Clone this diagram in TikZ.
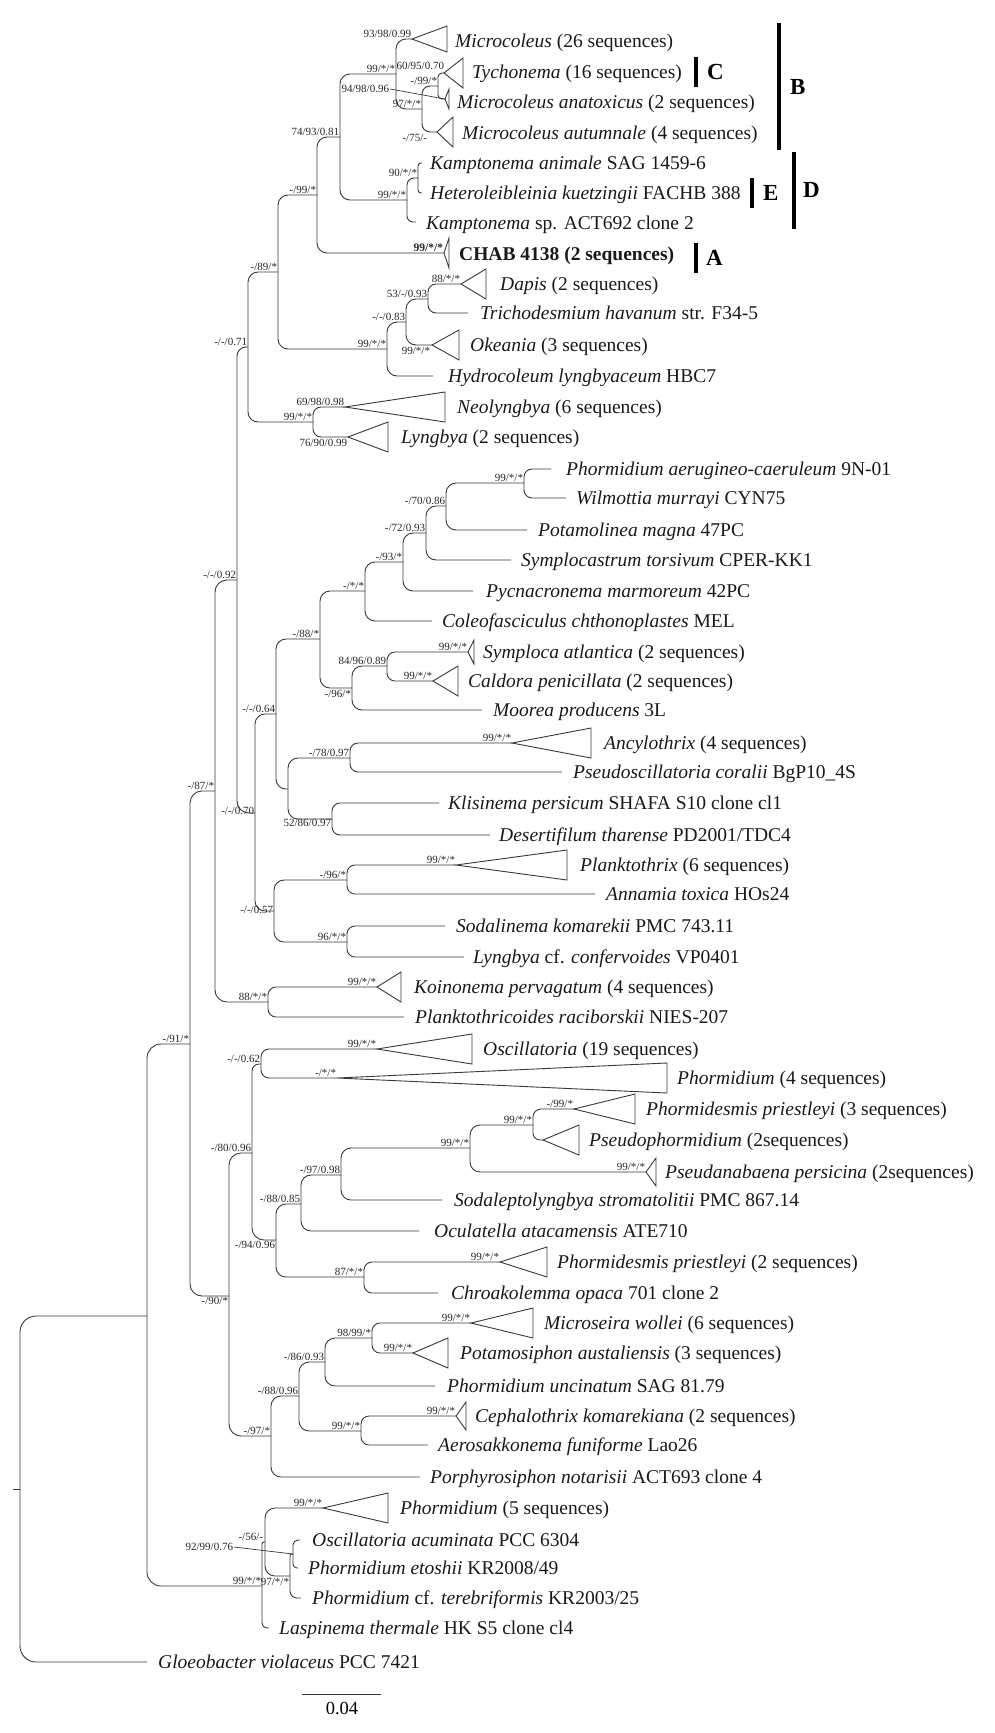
\documentclass[tikz,border=0pt]{standalone}
\usepackage{fontspec}
\setmainfont{Liberation Serif}
\begin{document}
\begin{tikzpicture}[x=1pt,y=-1pt,
  br/.style={draw=black!78, line width=0.9pt, rounded corners=10pt},
  tri/.style={draw=black!78, line width=0.9pt, line join=miter},
  tx/.style={anchor=base west, yshift=-6.5pt, inner sep=0pt, text=black!90, font=\fontsize{19.5}{22}\selectfont},
  sl/.style={inner sep=0.8pt, text=black!85, font=\fontsize{11}{12}\selectfont},
  barline/.style={line width=4pt, draw=black},
  bl/.style={anchor=west, inner sep=0pt, font=\fontsize{23}{26}\selectfont\bfseries}]
\newcommand\clade[3]{\draw[tri] (#1) -- ++(#2,-#3) -- ++(0,2*#3) -- cycle;}
\useasboundingbox (0,0) rectangle (994,1733);
% ---------- node coordinates ----------
\coordinate (R0) at (20,1489); \coordinate (stub) at (13,1489);
\coordinate (G) at (147,1662);
\coordinate (N4) at (147,1316); \coordinate (N3) at (190,1044);
\coordinate (N2) at (215,791);  \coordinate (N1) at (237,580);
\coordinate (Q) at (248,347);   \coordinate (U) at (278,272);
\coordinate (V) at (317,195);   \coordinate (W) at (340,137);
\coordinate (X) at (396,74);    \coordinate (aMic) at (412,39);
\coordinate (Y) at (422,109);   \coordinate (Z) at (438,86);
\coordinate (aTyc) at (444,73); \coordinate (aAna) at (445,99);
\coordinate (aAut) at (437,132);
\coordinate (K) at (407,200);   \coordinate (K2) at (418,178);
\coordinate (tKan) at (422,163); \coordinate (tHet) at (422,193);
\coordinate (tKsp) at (416,222); \coordinate (aCHAB) at (444,253);
\coordinate (T) at (387,349);   \coordinate (S) at (406,322);
\coordinate (Rr) at (428,299);  \coordinate (aDap) at (461,284);
\coordinate (tTri) at (468,313); \coordinate (aOke) at (432,345);
\coordinate (tHyd) at (433,376);
\coordinate (P) at (313,422);   \coordinate (aNeo) at (345,407);
\coordinate (aLyn) at (348,437);
\coordinate (N21) at (255,813); \coordinate (N22) at (276,714);
\coordinate (N28) at (320,639); \coordinate (N29) at (365,591);
\coordinate (N30) at (403,562); \coordinate (N31) at (426,533);
\coordinate (N32) at (446,506); \coordinate (N33) at (524,483);
\coordinate (tPAe) at (551,469); \coordinate (tWil) at (566,498);
\coordinate (tPot) at (527,530); \coordinate (tSym) at (511,560);
\coordinate (tPyc) at (473,591); \coordinate (tCol) at (432,621);
\coordinate (N34) at (352,688); \coordinate (N35) at (387,666);
\coordinate (aSyp) at (468,652); \coordinate (aCal) at (433,681);
\coordinate (tMoo) at (482,710);
\coordinate (N26) at (288,789); \coordinate (N25) at (350,758);
\coordinate (aAnc) at (512,743); \coordinate (tPsc) at (562,772);
\coordinate (N27) at (332,819); \coordinate (tKli) at (439,803);
\coordinate (tDes) at (490,835);
\coordinate (N23) at (274,911); \coordinate (Npl) at (347,880);
\coordinate (aPla) at (456,865); \coordinate (tAnn) at (595,894);
\coordinate (N24) at (347,942); \coordinate (tSod) at (445,926);
\coordinate (tLcf) at (464,957);
\coordinate (N20) at (268,1002); \coordinate (aKoi) at (377,987);
\coordinate (tPlr) at (404,1017);
\coordinate (N6) at (229,1296); \coordinate (N8) at (252,1153);
\coordinate (N13) at (261,1064); \coordinate (aOsc) at (377,1049);
\coordinate (aPh4) at (337,1078);
\coordinate (N14) at (276,1240); \coordinate (N15) at (301,1204);
\coordinate (N16) at (341,1175); \coordinate (N17) at (470,1148);
\coordinate (N18) at (533,1125); \coordinate (aPd3) at (574,1109);
\coordinate (aPsp) at (543,1140); \coordinate (aPsa) at (646,1172);
\coordinate (tSdl) at (442,1200); \coordinate (tOcu) at (419,1231);
\coordinate (N19) at (364,1277); \coordinate (aPd2) at (500,1262);
\coordinate (tChr) at (438,1293);
\coordinate (N7) at (271,1436);  \coordinate (N9) at (299,1396);
\coordinate (N10) at (325,1362); \coordinate (N11) at (372,1338);
\coordinate (aMsw) at (471,1323); \coordinate (aPtm) at (413,1353);
\coordinate (tPun) at (435,1386);
\coordinate (N12) at (361,1431); \coordinate (aCep) at (456,1416);
\coordinate (tAer) at (428,1445); \coordinate (tPor) at (420,1477);
\coordinate (M1) at (262,1586); \coordinate (M2) at (265,1542);
\coordinate (aPh5) at (323,1508); \coordinate (M3) at (290,1576);
\coordinate (M4) at (293,1554);
\coordinate (tOac) at (300,1540); \coordinate (tPet) at (298,1568);
\coordinate (tPcf) at (301,1598); \coordinate (tLas) at (269,1628);
% ---------- branches ----------
\draw[br] (stub) -- (R0);
\draw[br,rounded corners=16pt] (R0) |- (N4);
\draw[br,rounded corners=16pt] (R0) |- (G);
\draw[br,rounded corners=14pt] (N4) |- (N3);
\draw[br,rounded corners=14pt] (N4) |- (M1);
\draw[br,rounded corners=12pt] (N3) |- (N2);
\draw[br,rounded corners=12pt] (N3) |- (N6);
\draw[br,rounded corners=12pt] (N2) |- (N1);
\draw[br,rounded corners=12pt] (N2) |- (N20);
\draw[br,rounded corners=9pt] (N1) |- (Q);
\draw[br,rounded corners=12pt] (N1) |- (N21);
\draw[br] (Q) |- (U);  \draw[br] (Q) |- (P);
\draw[br] (U) |- (V);  \draw[br] (U) |- (T);
\draw[br] (V) |- (W);  \draw[br] (V) |- (aCHAB);
\draw[br] (W) |- (X);  \draw[br] (W) |- (K);
\draw[br] (X) |- (aMic); \draw[br] (X) |- (Y);
\draw[br,rounded corners=8pt] (Y) |- (Z); \draw[br,rounded corners=8pt] (Y) |- (aAut);
\draw[br,rounded corners=4pt] (Z) |- (aTyc); \draw[br,rounded corners=4pt] (Z) |- (aAna);
\draw[br,rounded corners=7pt] (K) |- (K2); \draw[br,rounded corners=6pt] (K) |- (tKsp);
\draw[br,rounded corners=3pt] (K2) |- (tKan); \draw[br,rounded corners=3pt] (K2) |- (tHet);
\draw[br] (T) |- (S); \draw[br] (T) |- (tHyd);
\draw[br] (S) |- (Rr); \draw[br] (S) |- (aOke);
\draw[br,rounded corners=8pt] (Rr) |- (aDap); \draw[br,rounded corners=8pt] (Rr) |- (tTri);
\draw[br,rounded corners=8pt] (P) |- (aNeo); \draw[br,rounded corners=8pt] (P) |- (aLyn);
\draw[br] (N21) |- (N22); \draw[br] (N21) |- (N23);
\draw[br] (N22) |- (N28); \draw[br] (N22) |- (N26);
\draw[br] (N28) |- (N29); \draw[br] (N28) |- (N34);
\draw[br] (N29) |- (N30); \draw[br] (N29) |- (tCol);
\draw[br] (N30) |- (N31); \draw[br] (N30) |- (tPyc);
\draw[br] (N31) |- (N32); \draw[br] (N31) |- (tSym);
\draw[br] (N32) |- (N33); \draw[br] (N32) |- (tPot);
\draw[br,rounded corners=8pt] (N33) |- (tPAe); \draw[br,rounded corners=8pt] (N33) |- (tWil);
\draw[br] (N34) |- (N35); \draw[br] (N34) |- (tMoo);
\draw[br,rounded corners=8pt] (N35) |- (aSyp); \draw[br,rounded corners=8pt] (N35) |- (aCal);
\draw[br] (N26) |- (N25); \draw[br] (N26) |- (N27);
\draw[br,rounded corners=8pt] (N25) |- (aAnc); \draw[br,rounded corners=8pt] (N25) |- (tPsc);
\draw[br,rounded corners=8pt] (N27) |- (tKli); \draw[br,rounded corners=8pt] (N27) |- (tDes);
\draw[br] (N23) |- (Npl); \draw[br] (N23) |- (N24);
\draw[br,rounded corners=8pt] (Npl) |- (aPla); \draw[br,rounded corners=8pt] (Npl) |- (tAnn);
\draw[br,rounded corners=8pt] (N24) |- (tSod); \draw[br,rounded corners=8pt] (N24) |- (tLcf);
\draw[br,rounded corners=8pt] (N20) |- (aKoi); \draw[br,rounded corners=8pt] (N20) |- (tPlr);
\draw[br,rounded corners=12pt] (N6) |- (N8); \draw[br,rounded corners=12pt] (N6) |- (N7);
\draw[br,rounded corners=7pt] (N8) |- (N13); \draw[br,rounded corners=12pt] (N8) |- (N14);
\draw[br,rounded corners=8pt] (N13) |- (aOsc); \draw[br,rounded corners=8pt] (N13) |- (aPh4);
\draw[br] (N14) |- (N15); \draw[br] (N14) |- (N19);
\draw[br] (N15) |- (N16); \draw[br] (N15) |- (tOcu);
\draw[br] (N16) |- (N17); \draw[br] (N16) |- (tSdl);
\draw[br] (N17) |- (N18); \draw[br] (N17) |- (aPsa);
\draw[br,rounded corners=8pt] (N18) |- (aPd3); \draw[br,rounded corners=7pt] (N18) |- (aPsp);
\draw[br,rounded corners=8pt] (N19) |- (aPd2); \draw[br,rounded corners=8pt] (N19) |- (tChr);
\draw[br] (N7) |- (N9); \draw[br] (N7) |- (tPor);
\draw[br] (N9) |- (N10); \draw[br] (N9) |- (N12);
\draw[br] (N10) |- (N11); \draw[br] (N10) |- (tPun);
\draw[br,rounded corners=8pt] (N11) |- (aMsw); \draw[br,rounded corners=8pt] (N11) |- (aPtm);
\draw[br,rounded corners=8pt] (N12) |- (aCep); \draw[br,rounded corners=8pt] (N12) |- (tAer);
\draw[br,rounded corners=2pt] (M1) |- (M2); \draw[br,rounded corners=5pt] (M1) |- (tLas);
\draw[br] (M2) |- (aPh5); \draw[br] (M2) |- (M3);
\draw[br,rounded corners=2pt] (M3) |- (M4); \draw[br,rounded corners=7pt] (M3) |- (tPcf);
\draw[br,rounded corners=5pt] (M4) |- (tOac); \draw[br,rounded corners=4pt] (M4) |- (tPet);
% ---------- collapsed clades ----------
\clade{aMic}{35}{13} \clade{aTyc}{19}{15} \clade{aAna}{4}{10} \clade{aAut}{16}{15}
\clade{aCHAB}{5}{15} \clade{aDap}{25}{15} \clade{aOke}{27}{15}
\clade{aNeo}{100}{15} \clade{aLyn}{40}{15}
\clade{aSyp}{6}{12} \clade{aCal}{25}{15} \clade{aAnc}{79}{15} \clade{aPla}{111}{15}
\clade{aKoi}{24}{15} \clade{aOsc}{95}{15} \clade{aPh4}{330}{15}
\clade{aPd3}{61}{15} \clade{aPsp}{36}{15} \clade{aPsa}{10}{14} \clade{aPd2}{47}{15}
\clade{aMsw}{62}{15} \clade{aPtm}{35}{15} \clade{aCep}{10}{14} \clade{aPh5}{65}{15}
% ---------- taxon labels ----------
\node[tx] (LMic) at (455,41) {\textit{Microcoleus} (26 sequences)};
\node[tx] (LTyc) at (472,72) {\textit{Tychonema} (16 sequences)};
\node[tx] (LAna) at (457,102) {\textit{Microcoleus anatoxicus} (2 sequences)};
\node[tx] (LAut) at (462,133) {\textit{Microcoleus autumnale} (4 sequences)};
\node[tx] (LKan) at (430,163) {\textit{Kamptonema animale} SAG 1459-6};
\node[tx] (LHet) at (430,193) {\textit{Heteroleibleinia kuetzingii} FACHB 388};
\node[tx] (LKsp) at (426,223) {\textit{Kamptonema} sp. ACT692 clone 2};
\node[tx] (LCHAB) at (459,254) {\textbf{CHAB 4138 (2 sequences)}};
\node[tx] (LDap) at (500,284) {\textit{Dapis} (2 sequences)};
\node[tx] (LTri) at (480,313) {\textit{Trichodesmium havanum} str. F34-5};
\node[tx] (LOke) at (470,345) {\textit{Okeania} (3 sequences)};
\node[tx] (LHyd) at (448,376) {\textit{Hydrocoleum lyngbyaceum} HBC7};
\node[tx] (LNeo) at (457,407) {\textit{Neolyngbya} (6 sequences)};
\node[tx] (LLyn) at (401,437) {\textit{Lyngbya} (2 sequences)};
\node[tx] (LPAe) at (566,469) {\textit{Phormidium aerugineo-caeruleum} 9N-01};
\node[tx] (LWil) at (576,498) {\textit{Wilmottia murrayi} CYN75};
\node[tx] (LPot) at (538,530) {\textit{Potamolinea magna} 47PC};
\node[tx] (LSym) at (521,560) {\textit{Symplocastrum torsivum} CPER-KK1};
\node[tx] (LPyc) at (486,591) {\textit{Pycnacronema marmoreum} 42PC};
\node[tx] (LCol) at (442,621) {\textit{Coleofasciculus chthonoplastes} MEL};
\node[tx] (LSyp) at (483,652) {\textit{Symploca atlantica} (2 sequences)};
\node[tx] (LCal) at (468,681) {\textit{Caldora penicillata} (2 sequences)};
\node[tx] (LMoo) at (493,710) {\textit{Moorea producens} 3L};
\node[tx] (LAnc) at (604,743) {\textit{Ancylothrix} (4 sequences)};
\node[tx] (LPsc) at (573,772) {\textit{Pseudoscillatoria coralii} BgP10\_4S};
\node[tx] (LKli) at (448,803) {\textit{Klisinema persicum} SHAFA S10 clone cl1};
\node[tx] (LDes) at (499,835) {\textit{Desertifilum tharense} PD2001/TDC4};
\node[tx] (LPla) at (580,865) {\textit{Planktothrix} (6 sequences)};
\node[tx] (LAnn) at (606,894) {\textit{Annamia toxica} HOs24};
\node[tx] (LSod) at (456,926) {\textit{Sodalinema komarekii} PMC 743.11};
\node[tx] (LLcf) at (473,957) {\textit{Lyngbya} cf. \textit{confervoides} VP0401};
\node[tx] (LKoi) at (414,987) {\textit{Koinonema pervagatum} (4 sequences)};
\node[tx] (LPlr) at (415,1017) {\textit{Planktothricoides raciborskii} NIES-207};
\node[tx] (LOsc) at (483,1049) {\textit{Oscillatoria} (19 sequences)};
\node[tx] (LPh4) at (677,1078) {\textit{Phormidium} (4 sequences)};
\node[tx] (LPd3) at (646,1109) {\textit{Phormidesmis priestleyi} (3 sequences)};
\node[tx] (LPsp) at (589,1140) {\textit{Pseudophormidium} (2sequences)};
\node[tx] (LPsa) at (665,1172) {\textit{Pseudanabaena persicina} (2sequences)};
\node[tx] (LSdl) at (454,1200) {\textit{Sodaleptolyngbya stromatolitii} PMC 867.14};
\node[tx] (LOcu) at (434,1231) {\textit{Oculatella atacamensis} ATE710};
\node[tx] (LPd2) at (557,1262) {\textit{Phormidesmis priestleyi} (2 sequences)};
\node[tx] (LChr) at (451,1293) {\textit{Chroakolemma opaca} 701 clone 2};
\node[tx] (LMsw) at (544,1323) {\textit{Microseira wollei} (6 sequences)};
\node[tx] (LPtm) at (460,1353) {\textit{Potamosiphon austaliensis} (3 sequences)};
\node[tx] (LPun) at (447,1386) {\textit{Phormidium uncinatum} SAG 81.79};
\node[tx] (LCep) at (475,1416) {\textit{Cephalothrix komarekiana} (2 sequences)};
\node[tx] (LAer) at (438,1445) {\textit{Aerosakkonema funiforme} Lao26};
\node[tx] (LPor) at (430,1477) {\textit{Porphyrosiphon notarisii} ACT693 clone 4};
\node[tx] (LPh5) at (400,1508) {\textit{Phormidium} (5 sequences)};
\node[tx] (LOac) at (312,1540) {\textit{Oscillatoria acuminata} PCC 6304};
\node[tx] (LPet) at (308,1568) {\textit{Phormidium etoshii} KR2008/49};
\node[tx] (LPcf) at (312,1598) {\textit{Phormidium} cf. \textit{terebriformis} KR2003/25};
\node[tx] (LLas) at (279,1628) {\textit{Laspinema thermale} HK S5 clone cl4};
\node[tx] (LG) at (158,1662) {\textit{Gloeobacter violaceus} PCC 7421};
% ---------- support values ----------
\node[sl,anchor=south east] (s1) at (412,39) {93/98/0.99};
\node[sl,anchor=south east] (s2) at (396,74) {99/*/*};
\node[sl,anchor=south east] (s3) at (445,71) {60/95/0.70};
\node[sl,anchor=south east] (s4) at (438,86) {-/99/*};
\node[sl,anchor=east] (s5) at (390,89) {94/98/0.96};
\draw[draw=black!78, line width=0.7pt] (s5.east) -- (aAna);
\node[sl,anchor=south east] (s6) at (422,109) {97/*/*};
\node[sl,anchor=north east] (s7) at (428,133) {-/75/-};
\node[sl,anchor=south east] (s8) at (340,137) {74/93/0.81};
\node[sl,anchor=south east] (s9) at (418,178) {90/*/*};
\node[sl,anchor=south east] (s10) at (407,200) {99/*/*};
\node[sl,anchor=south east] (s11) at (317,195) {-/99/*};
\node[sl,anchor=south east,font=\fontsize{11.5}{12}\selectfont\bfseries] (s12) at (444,253) {99/*/*};
\node[sl,anchor=south east] (s13) at (278,272) {-/89/*};
\node[sl,anchor=south east] (s14) at (461,284) {88/*/*};
\node[sl,anchor=south east] (s15) at (428,299) {53/-/0.93};
\node[sl,anchor=south east] (s16) at (406,322) {-/-/0.83};
\node[sl,anchor=north east] (s17) at (431,346) {99/*/*};
\node[sl,anchor=south east] (s18) at (387,349) {99/*/*};
\node[sl,anchor=south east] (s19) at (248,347) {-/-/0.71};
\node[sl,anchor=south east] (s20) at (345,407) {69/98/0.98};
\node[sl,anchor=south east] (s21) at (313,422) {99/*/*};
\node[sl,anchor=north east] (s22) at (348,438) {76/90/0.99};
\node[sl,anchor=south east] (s23) at (524,483) {99/*/*};
\node[sl,anchor=south east] (s24) at (446,506) {-/70/0.86};
\node[sl,anchor=south east] (s25) at (426,533) {-/72/0.93};
\node[sl,anchor=south east] (s26) at (403,562) {-/93/*};
\node[sl,anchor=south east] (s27) at (365,591) {-/*/*};
\node[sl,anchor=south east] (s28) at (320,639) {-/88/*};
\node[sl,anchor=south east] (s29) at (387,666) {84/96/0.89};
\node[sl,anchor=south east] (s30) at (468,652) {99/*/*};
\node[sl,anchor=south east] (s31) at (433,681) {99/*/*};
\node[sl,anchor=north east] (s32) at (352,689) {-/96/*};
\node[sl,anchor=south east] (s33) at (276,714) {-/-/0.64};
\node[sl,anchor=south east] (s34) at (512,743) {99/*/*};
\node[sl,anchor=south east] (s35) at (350,758) {-/78/0.97};
\node[sl,anchor=south east] (s36) at (255,816) {-/-/0.70};
\node[sl,anchor=north east] (s37) at (332,818) {52/86/0.97};
\node[sl,anchor=south east] (s38) at (215,791) {-/87/*};
\node[sl,anchor=south east] (s39) at (237,580) {-/-/0.92};
\node[sl,anchor=south east] (s40) at (456,865) {99/*/*};
\node[sl,anchor=south east] (s41) at (347,880) {-/96/*};
\node[sl,anchor=south east] (s42) at (274,915) {-/-/0.57};
\node[sl,anchor=south east] (s43) at (347,942) {96/*/*};
\node[sl,anchor=south east] (s44) at (377,987) {99/*/*};
\node[sl,anchor=south east] (s45) at (268,1002) {88/*/*};
\node[sl,anchor=south east] (s46) at (190,1044) {-/91/*};
\node[sl,anchor=south east] (s47) at (377,1049) {99/*/*};
\node[sl,anchor=south east] (s48) at (261,1064) {-/-/0.62};
\node[sl,anchor=south east] (s49) at (337,1078) {-/*/*};
\node[sl,anchor=south east] (s50) at (252,1153) {-/80/0.96};
\node[sl,anchor=south east] (s51) at (574,1109) {-/99/*};
\node[sl,anchor=south east] (s52) at (533,1125) {99/*/*};
\node[sl,anchor=south east] (s53) at (470,1148) {99/*/*};
\node[sl,anchor=south east] (s54) at (646,1172) {99/*/*};
\node[sl,anchor=south east] (s55) at (341,1175) {-/97/0.98};
\node[sl,anchor=south east] (s56) at (301,1204) {-/88/0.85};
\node[sl,anchor=north east] (s57) at (276,1240) {-/94/0.96};
\node[sl,anchor=south east] (s58) at (500,1262) {99/*/*};
\node[sl,anchor=south east] (s59) at (364,1277) {87/*/*};
\node[sl,anchor=north east] (s60) at (229,1296) {-/90/*};
\node[sl,anchor=south east] (s61) at (471,1323) {99/*/*};
\node[sl,anchor=south east] (s62) at (372,1338) {98/99/*};
\node[sl,anchor=south east] (s63) at (413,1353) {99/*/*};
\node[sl,anchor=south east] (s64) at (325,1362) {-/86/0.93};
\node[sl,anchor=south east] (s65) at (299,1396) {-/88/0.96};
\node[sl,anchor=south east] (s66) at (456,1416) {99/*/*};
\node[sl,anchor=south east] (s67) at (361,1431) {99/*/*};
\node[sl,anchor=south east] (s68) at (271,1436) {-/97/*};
\node[sl,anchor=south east] (s69) at (323,1508) {99/*/*};
\node[sl,anchor=south east] (s70) at (264,1542) {-/56/-};
\node[sl,anchor=east] (s71) at (234,1547) {92/99/0.76};
\draw[draw=black!78, line width=0.7pt] (s71.east) -- (M4);
\node[sl,anchor=south east] (s72) at (262,1586) {99/*/*};
\node[sl,anchor=north east] (s73) at (290,1577) {97/*/*};
% ---------- clade bars ----------
\coordinate (cT) at (696,57); \coordinate (cB) at (696,87);
\draw[barline] (cT) -- (cB); \node[bl] (LC) at (707,72) {C};
\coordinate (bT) at (779,23); \coordinate (bB) at (779,150);
\draw[barline] (bT) -- (bB); \node[bl] (LB) at (790,87) {B};
\coordinate (eT) at (752,178); \coordinate (eB) at (752,208);
\draw[barline] (eT) -- (eB); \node[bl] (LE) at (763,193) {E};
\coordinate (dT) at (794,152); \coordinate (dB) at (794,229);
\draw[barline] (dT) -- (dB); \node[bl] (LD) at (803,190) {D};
\coordinate (aT) at (696,243); \coordinate (aB) at (696,273);
\draw[barline] (aT) -- (aB); \node[bl] (LA) at (706,258) {A};
% ---------- scale bar ----------
\coordinate (sb1) at (302,1694); \coordinate (sb2) at (381,1694);
\draw[draw=black!78, line width=0.9pt] (sb1) -- (sb2);
\node[inner sep=0pt, font=\fontsize{18.5}{20}\selectfont] (sbl) at (342,1708) {0.04};
\end{tikzpicture}
\end{document}
